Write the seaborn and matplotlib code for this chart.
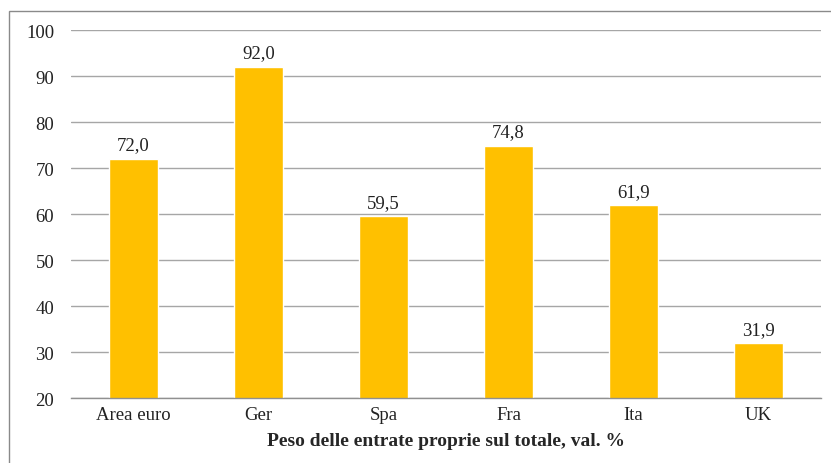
import matplotlib
matplotlib.use('Agg')
import matplotlib.pyplot as plt
import seaborn as sns
import pandas as pd
from matplotlib.patches import Rectangle

paesi = ['Area euro', 'Ger', 'Spa', 'Fra', 'Ita', 'UK']
valori = [72.0, 92.0, 59.5, 74.8, 61.9, 31.9]
etichette = [f'{v:.1f}'.replace('.', ',') for v in valori]
titolo_x = 'Peso delle entrate proprie sul totale, val. %'

df = pd.DataFrame({'paese': paesi, 'valore': valori})

sns.set_style('white')
plt.rcParams['font.family'] = ['Liberation Serif', 'DejaVu Serif']

fig = plt.figure(figsize=(8.31, 4.64), dpi=100)
ax = fig.add_axes([0.0854, 0.140, 0.9026, 0.793])

sns.barplot(data=df, x='paese', y='valore', color='#FFC000', saturation=1,
            width=0.39, ax=ax)

ax.set_ylim(20, 100)
ax.set_yticks(range(20, 101, 10))
ax.set_xlim(-0.5, len(paesi) - 0.5)
ax.yaxis.grid(True, color='#a6a6a6', linewidth=1)
ax.set_axisbelow(True)

for s in ['left', 'right', 'top']:
    ax.spines[s].set_visible(False)
ax.spines['bottom'].set_color('#909090')
ax.spines['bottom'].set_linewidth(1)

fs = 13.5
ax.set_xticks([i - 0.5 for i in range(len(paesi) + 1)], minor=True)
ax.tick_params(axis='x', which='major', length=0, pad=6, labelsize=fs, labelcolor='#222222')
ax.tick_params(axis='x', which='minor', length=5, color='#909090', width=1)
ax.tick_params(axis='y', length=0, pad=12, labelsize=fs, labelcolor='#222222')

ax.bar_label(ax.containers[0], labels=etichette, padding=4, fontsize=fs, color='#222222')

ax.set_xlabel(titolo_x, fontsize=14, fontweight='bold', labelpad=6)
ax.set_ylabel('')

fig.patches.append(Rectangle((9 / 831, -0.2), 1.5, 1.2 - 12 / 464,
                             transform=fig.transFigure, fill=False,
                             edgecolor='#8a8a8a', linewidth=1))

fig.savefig('out.png', dpi=100)
